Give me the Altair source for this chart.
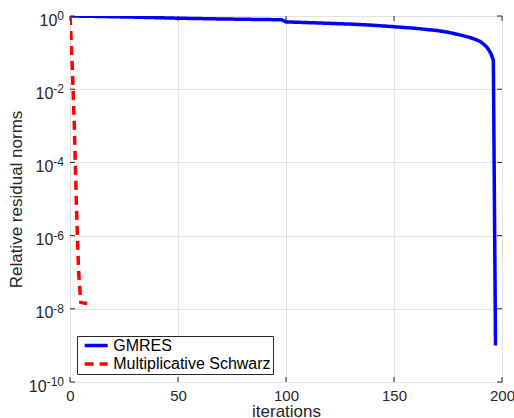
import altair as alt
import pandas as pd

# GMRES relative residual norms
gmres_iter = [0, 10, 20, 30, 40, 50, 60, 70, 80, 90, 98, 100, 110, 120, 130, 140,
              150, 160, 170, 175, 180, 185, 188, 190, 192, 193, 194, 195, 196, 197]
gmres_res = [1.0, 0.98, 0.955, 0.93, 0.9, 0.87, 0.85, 0.83, 0.815, 0.80, 0.79, 0.69,
             0.66, 0.63, 0.60, 0.56, 0.51, 0.46, 0.40, 0.36, 0.31, 0.26, 0.225, 0.20,
             0.16, 0.14, 0.115, 0.09, 0.062, 1.0e-9]

# Multiplicative Schwarz relative residual norms
schwarz_iter = [0, 1, 2, 3, 4, 5, 6, 7, 8]
schwarz_res = [1.0, 5e-2, 1e-3, 6e-6, 1e-7, 1.5e-8, 1.45e-8, 1.42e-8, 1.42e-8]

series_names = ["GMRES", "Multiplicative Schwarz"]
series_colors = ["#0000FF", "#FF0000"]
series_dash = [[1, 0], [9, 6]]

x_ticks = [0, 50, 100, 150, 200]
y_ticks = [1e-10, 1e-8, 1e-6, 1e-4, 1e-2, 1.0]

df = pd.concat([
    pd.DataFrame({"iter": gmres_iter, "res": gmres_res, "series": series_names[0]}),
    pd.DataFrame({"iter": schwarz_iter, "res": schwarz_res, "series": series_names[1]}),
])
xt = pd.DataFrame({"iter": x_ticks})
yt = pd.DataFrame({"res": y_ticks})

W, H = 432, 366
FONT = "Liberation Sans"
TXT = "#262626"

xscale = alt.Scale(domain=[0, 200], nice=False, zero=False)
yscale = alt.Scale(type="log", domain=[1e-10, 1], nice=False)

x_axis = alt.Axis(values=x_ticks, grid=True, gridColor="#e3e3e3", tickSize=0,
                  domain=False, labelFont=FONT, labelFontSize=15, labelColor=TXT,
                  labelPadding=6, labelFlush=False, titleFont=FONT, titleFontSize=17,
                  titleFontWeight="normal", titleColor=TXT, titlePadding=0)
y_axis = alt.Axis(values=y_ticks, grid=True, gridColor="#e3e3e3", tickSize=0,
                  domain=False, labels=False,
                  titleFont=FONT, titleFontSize=17, titleFontWeight="normal",
                  titleColor=TXT, titlePadding=44)

lines = alt.Chart(df).mark_line(strokeWidth=3.5, clip=True).encode(
    x=alt.X("iter:Q", scale=xscale, title="iterations", axis=x_axis),
    y=alt.Y("res:Q", scale=yscale, title="Relative residual norms", axis=y_axis),
    color=alt.Color("series:N", scale=alt.Scale(domain=series_names, range=series_colors),
                    title=None),
    strokeDash=alt.StrokeDash("series:N",
                              scale=alt.Scale(domain=series_names, range=series_dash),
                              title=None),
    order=alt.Order("iter:Q"),
)

tick_color = "#262626"
xb = alt.Chart(xt).mark_rule(color=tick_color, strokeWidth=1).encode(
    x=alt.X("iter:Q", scale=xscale, title="iterations", axis=x_axis),
    y=alt.value(H), y2=alt.value(H - 5))
xtop = alt.Chart(xt).mark_rule(color=tick_color, strokeWidth=1).encode(
    x=alt.X("iter:Q", scale=xscale, title="iterations", axis=x_axis),
    y=alt.value(0), y2=alt.value(5))
yl = alt.Chart(yt).mark_rule(color=tick_color, strokeWidth=1).encode(
    y=alt.Y("res:Q", scale=yscale, title="Relative residual norms", axis=y_axis),
    x=alt.value(0), x2=alt.value(5))
yr = alt.Chart(yt).mark_rule(color=tick_color, strokeWidth=1).encode(
    y=alt.Y("res:Q", scale=yscale, title="Relative residual norms", axis=y_axis),
    x=alt.value(W), x2=alt.value(W - 5))

# y tick labels drawn as "10" with a raised exponent
lab_base = alt.Chart(yt).transform_calculate(
    exp="'' + round(log(datum.res) / LN10)",
    base="'10'",
)
exp_text = lab_base.mark_text(
    align="right", baseline="alphabetic", dx=-6, dy=4, font=FONT, fontSize=12, color=TXT
).encode(
    y=alt.Y("res:Q", scale=yscale, title="Relative residual norms", axis=y_axis),
    x=alt.value(0), text="exp:N")
base_text = lab_base.mark_text(
    align="right", baseline="alphabetic", font=FONT, fontSize=16, color=TXT, dy=9.5,
    dx=alt.expr("-6 - (datum.exp == '0' ? 6.7 : (length(datum.exp) > 2 ? 17.4 : 10.7))"),
).encode(
    y=alt.Y("res:Q", scale=yscale, title="Relative residual norms", axis=y_axis),
    x=alt.value(0), text="base:N")

chart = alt.layer(lines, xb, xtop, yl, yr, exp_text, base_text).properties(
    width=W, height=H,
    autosize=alt.AutoSizeParams(type="none"),
    padding={"left": 70, "top": 16, "right": 12, "bottom": 36},
    background="white",
).configure_view(
    stroke="#262626", strokeWidth=1
).configure_legend(
    orient="none", legendX=7, legendY=320,
    strokeColor="#262626", fillColor="white", padding=1.5,
    labelFont=FONT, labelFontSize=16, labelColor="#000000",
    symbolType="M-0.32,0H3.68", symbolSize=132, symbolStrokeWidth=3.5,
    labelOffset=18.7, rowPadding=2.5, cornerRadius=0,
)

chart.save("out.html", embed_options={"renderer": "svg", "actions": False})
